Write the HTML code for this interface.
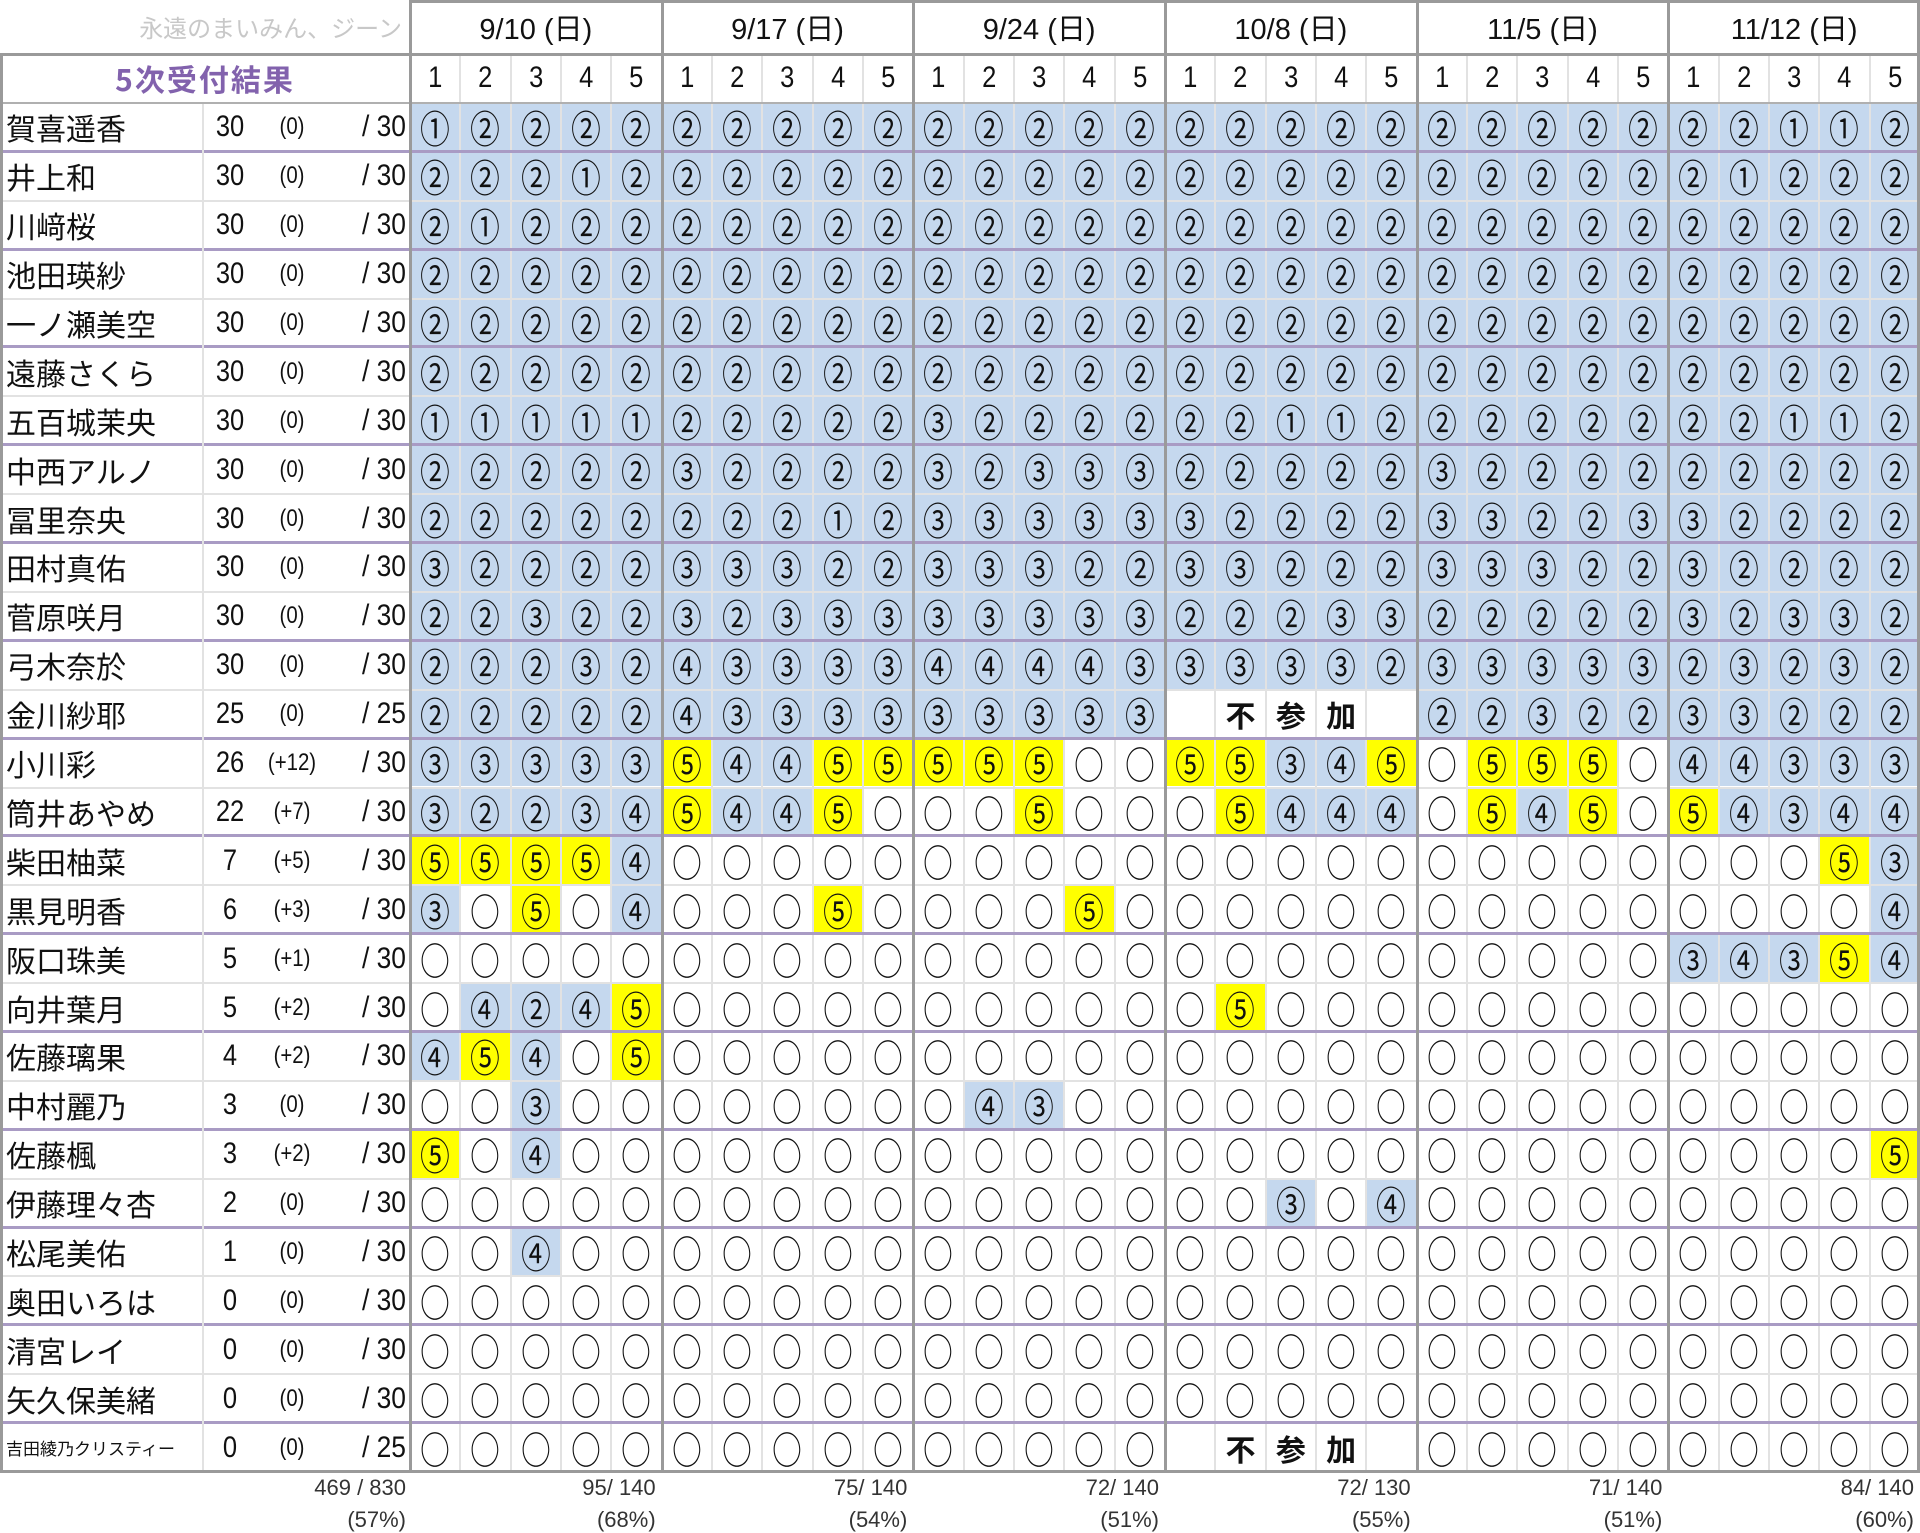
<!DOCTYPE html>
<html><head><meta charset="utf-8">
<style>
html,body{margin:0;padding:0;background:#fff;}
#chart{position:relative;width:1920px;height:1533px;overflow:hidden;font-family:"Liberation Sans","Noto Sans CJK JP",sans-serif;color:#111;}
.c{position:absolute;box-sizing:border-box;display:flex;align-items:center;justify-content:center;white-space:nowrap;}
.mk{font-family:"Noto Sans CJK JP",sans-serif;font-size:38px;line-height:1;transform:scaleX(0.78);}
.ln{position:absolute;}
</style></head><body>
<div id="chart">
  <div class="c" style="left:0;top:0;width:402px;height:53px;justify-content:flex-end;color:#c8c8c8;font-size:24px;font-family:'Noto Sans CJK JP',sans-serif;">永遠のまいみん、ジーン</div>
  <div class="c" style="left:0;top:53px;width:410px;height:50px;color:#8262ad;font-weight:bold;font-size:30px;font-family:'Noto Sans CJK JP',sans-serif;letter-spacing:2px;">5次受付結果</div>
</div>
<script>
const dates=["9/10 (日)","9/17 (日)","9/24 (日)","10/8 (日)","11/5 (日)","11/12 (日)"];
const names=["賀喜遥香","井上和","川﨑桜","池田瑛紗","一ノ瀬美空","遠藤さくら","五百城茉央","中西アルノ","冨里奈央","田村真佑","菅原咲月","弓木奈於","金川紗耶","小川彩","筒井あやめ","柴田柚菜","黒見明香","阪口珠美","向井葉月","佐藤璃果","中村麗乃","佐藤楓","伊藤理々杏","松尾美佑","奥田いろは","清宮レイ","矢久保美緒","吉田綾乃クリスティー"];
const wins=[30,30,30,30,30,30,30,30,30,30,30,30,25,26,22,7,6,5,5,4,3,3,2,1,0,0,0,0];
const diffs=["(0)","(0)","(0)","(0)","(0)","(0)","(0)","(0)","(0)","(0)","(0)","(0)","(0)","(+12)","(+7)","(+5)","(+3)","(+1)","(+2)","(+2)","(0)","(+2)","(0)","(0)","(0)","(0)","(0)","(0)"];
const totals=[30,30,30,30,30,30,30,30,30,30,30,30,25,30,30,30,30,30,30,30,30,30,30,30,30,30,30,25];
const results=[
"12222 22222 22222 22222 22222 22112",
"22212 22222 22222 22222 22222 21222",
"21222 22222 22222 22222 22222 22222",
"22222 22222 22222 22222 22222 22222",
"22222 22222 22222 22222 22222 22222",
"22222 22222 22222 22222 22222 22222",
"11111 22222 32222 22112 22222 22112",
"22222 32222 32333 22222 32222 22222",
"22222 22212 33333 32222 33223 32222",
"32222 33322 33322 33222 33322 32222",
"22322 32333 33333 22233 22222 32332",
"22232 43333 44443 33332 33333 23232",
"22222 43333 33333 ----- 22322 33222",
"33333 54455 555oo 55345 o555o 44333",
"32234 5445o oo5oo o5444 o545o 54344",
"55554 ooooo ooooo ooooo ooooo ooo53",
"3o5o4 ooo5o ooo5o ooooo ooooo oooo4",
"ooooo ooooo ooooo ooooo ooooo 34354",
"o4245 ooooo ooooo o5ooo ooooo ooooo",
"454o5 ooooo ooooo ooooo ooooo ooooo",
"oo3oo ooooo o43oo ooooo ooooo ooooo",
"5o4oo ooooo ooooo ooooo ooooo oooo5",
"ooooo ooooo ooooo oo3o4 ooooo ooooo",
"oo4oo ooooo ooooo ooooo ooooo ooooo",
"ooooo ooooo ooooo ooooo ooooo ooooo",
"ooooo ooooo ooooo ooooo ooooo ooooo",
"ooooo ooooo ooooo ooooo ooooo ooooo",
"ooooo ooooo ooooo ----- ooooo ooooo"];
const sumText="469 / 830";
const sumPct="(57%)";
const groupHits=[95,75,72,72,71,84];
const groupMax=[140,140,140,130,140,140];
const groupPct=["(68%)","(54%)","(51%)","(55%)","(51%)","(60%)"];

const chart=document.getElementById('chart');
const X0=410,CW=(1920-410)/30,Y0=103,RH=(1472-103)/28;
const glyph={"1":"①","2":"②","3":"③","4":"④","5":"⑤","o":"○"};
function col(i){return X0+i*CW;}
function row(r){return Y0+r*RH;}
function mk(x,y,w,h,txt,css){const d=document.createElement('div');d.className='c';d.style.left=x+'px';d.style.top=y+'px';d.style.width=w+'px';d.style.height=h+'px';if(css)d.style.cssText+=css;if(txt!=null)d.textContent=txt;chart.appendChild(d);return d;}
function line(x,y,w,h,color){const d=document.createElement('div');d.className='ln';d.style.cssText=`left:${x}px;top:${y}px;width:${w}px;height:${h}px;background:${color};`;chart.appendChild(d);return d;}

for(let r=0;r<28;r++){
  const cells=results[r].replace(/ /g,'').split('');
  for(let i=0;i<30;i++){
    const v=cells[i]||'o';
    let bg='#fff';
    if(v>='1'&&v<='4')bg='#c5d8ee';else if(v==='5')bg='#ffff00';
    const d=mk(col(i)+1,row(r)+1,CW-2,RH-2,null,`background:${bg};`);
    
    
    if(v!=='-'){const sp=document.createElement('span');sp.className='mk';sp.textContent=glyph[v]||'○';d.appendChild(sp);}
  }
  for(let g=0;g<6;g++){
    if(cells.slice(g*5,g*5+5).every(c=>c==='-')){
      const lbl=["不","参","加"];
      for(let k=0;k<3;k++){
        const a=mk(col(g*5+1+k),row(r),CW,RH,lbl[k],"font-family:'Noto Sans CJK JP',sans-serif;font-weight:bold;font-size:30px;");
        
        
      }
    }
  }
  const n=mk(6,row(r),196,RH,names[r],`justify-content:flex-start;font-family:'Noto Sans CJK JP',sans-serif;font-size:${names[r].length>8?17:30}px;`);
  
  
  const w=mk(205,row(r),50,RH,String(wins[r]),"font-size:30px;transform:scaleX(0.85);");
  
  
  const df=mk(252,row(r),80,RH,diffs[r],"font-size:24px;transform:scaleX(0.85);");
  
  
  const t=mk(318,row(r),88,RH,"/ "+totals[r],"justify-content:flex-end;font-size:30px;transform:scaleX(0.88);transform-origin:right;");
  
  
}
for(let g=0;g<6;g++){
  const h=mk(col(g*5),0,CW*5,53,dates[g],"font-size:29px;font-family:'Liberation Sans','Noto Sans CJK JP',sans-serif;");
  
  
  for(let k=0;k<5;k++){
    const s=mk(col(g*5+k),53,CW,50,String(k+1),"font-size:30px;transform:scaleX(0.85);");
    
    
  }
  const f1=mk(col(g*5),1472,CW*5-6,32,groupHits[g]+"/ "+groupMax[g],"justify-content:flex-end;font-size:22px;color:#333;");
  
  
  const f2=mk(col(g*5),1505,CW*5-6,30,groupPct[g],"justify-content:flex-end;font-size:22px;color:#333;");
  
  
}
const s1=mk(202,1472,204,32,sumText,"justify-content:flex-end;font-size:22px;color:#333;");


const s2=mk(202,1505,204,30,sumPct,"justify-content:flex-end;font-size:22px;color:#333;");



for(let i=1;i<30;i++){ if(i%5) line(col(i)-1,53,2,1472-53,'#e2e2e2'); }
for(let r=1;r<28;r++){ if(r%2===1) line(0,row(r)-2,1920,3,'#a99bc4'); else line(0,row(r)-1,1920,2,'#e2e2e2'); }
line(202,103,2,1472-103,'#e2e2e2');
line(0,53,1920,3,'#9a9a9a');
line(0,102,1920,2,'#b0b0b0');
line(0,1470,1920,3,'#9a9a9a');
line(0,53,3,1420,'#9a9a9a');
line(1917,0,3,1473,'#9a9a9a');
line(X0,0,1510,3,'#9a9a9a');
for(let g=0;g<6;g++){ line(col(g*5)-1,0,3,1473,'#9a9a9a'); }
</script>
</body></html>
